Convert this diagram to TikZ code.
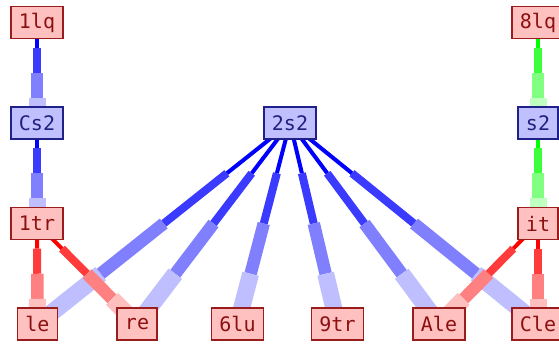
\documentclass[tikz,border=0pt]{standalone}
\usepackage{fontspec}
\newfontfamily\nodefont{DejaVu Sans Mono}
\usetikzlibrary{backgrounds,calc}
\definecolor{rfill}{HTML}{FFC0C0}
\definecolor{rdraw}{HTML}{9A1C1C}
\definecolor{rtext}{HTML}{8B1010}
\definecolor{bfill}{HTML}{C0C0FF}
\definecolor{bdraw}{HTML}{20208A}
\definecolor{btext}{HTML}{202080}
\tikzset{
  box/.style={draw, line width=1.3pt, minimum height=32pt, inner xsep=8pt, inner ysep=0pt,
    font=\nodefont\fontsize{20}{20}\selectfont},
  rbox/.style={box, fill=rfill, draw=rdraw, text=rtext},
  bbox/.style={box, fill=bfill, draw=bdraw, text=btext},
  seg/.style={line cap=butt},
}
\newcommand\tapered[3]{%
  \draw[seg, line width=4pt, draw=#3] (#1.center) -- ($(#1.center)!0.25!(#2.center)$);
  \draw[seg, line width=8pt, draw=#3!77!white] ($(#1.center)!0.25!(#2.center)$) -- ($(#1.center)!0.5!(#2.center)$);
  \draw[seg, line width=12.5pt, draw=#3!50!white] ($(#1.center)!0.5!(#2.center)$) -- ($(#1.center)!0.75!(#2.center)$);
  \draw[seg, line width=17pt, draw=#3!25!white] ($(#1.center)!0.75!(#2.center)$) -- (#2.center);
}
\begin{document}
\begin{tikzpicture}[x=1pt, y=-1pt]
\useasboundingbox (0,0) rectangle (559,343);
\node[rbox] (n1lq) at (37,22.5) {1lq};
\node[bbox] (nCs2) at (37,123) {Cs2};
\node[rbox] (n1tr) at (37,223.5) {1tr};
\node[rbox] (n8lq) at (538,22.5) {8lq};
\node[bbox] (ns2) at (538,123) {s2};
\node[rbox] (nit) at (538,223.5) {it};
\node[bbox] (n2s2) at (290,123) {2s2};
\node[rbox] (nle) at (37.5,324) {le};
\node[rbox] (nre) at (137,324) {re};
\node[rbox] (n6lu) at (237.5,324) {6lu};
\node[rbox] (n9tr) at (337.5,324) {9tr};
\node[rbox] (nAle) at (439,324) {Ale};
\node[rbox] (nCle) at (538,324) {Cle};
\begin{scope}[on background layer]
\tapered{n1lq}{nCs2}{blue}
\tapered{nCs2}{n1tr}{blue}
\tapered{n8lq}{ns2}{green}
\tapered{ns2}{nit}{green}
\tapered{n2s2}{nle}{blue}
\tapered{n2s2}{nre}{blue}
\tapered{n2s2}{n6lu}{blue}
\tapered{n2s2}{n9tr}{blue}
\tapered{n2s2}{nAle}{blue}
\tapered{n2s2}{nCle}{blue}
\tapered{n1tr}{nle}{red}
\tapered{n1tr}{nre}{red}
\tapered{nit}{nAle}{red}
\tapered{nit}{nCle}{red}
\end{scope}
\end{tikzpicture}
\end{document}
